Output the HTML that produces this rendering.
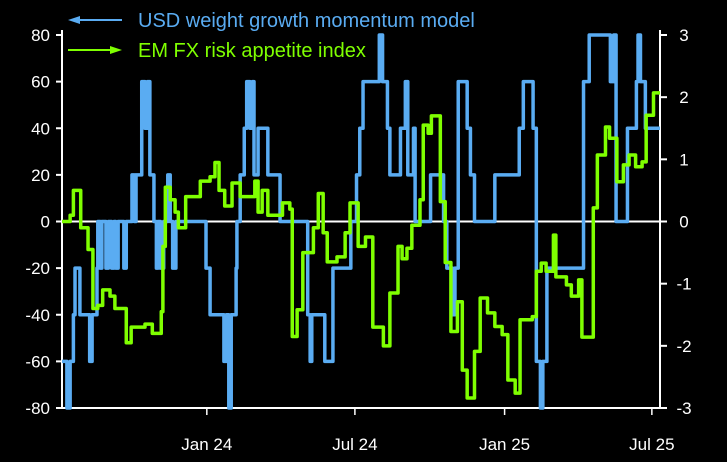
<!DOCTYPE html>
<html><head><meta charset="utf-8"><style>
body{margin:0;background:#000;}
svg{display:block;font-family:"Liberation Sans",sans-serif;}
</style></head><body>
<svg id="chart" width="727" height="462">
<rect width="727" height="462" fill="#000"/>
<g id="axes"></g><g id="series"></g>
<g>
<g>
<line x1="76" y1="20" x2="122" y2="20" stroke="#5aacf2" stroke-width="2"/>
<polygon points="68,20 80,16 80,24" fill="#5aacf2"/>
<text x="138" y="27" fill="#5aacf2" font-size="20">USD weight growth momentum model</text></g>
<g>
<line x1="68" y1="50" x2="114" y2="50" stroke="#7fff00" stroke-width="2"/>
<polygon points="122,50 110,46 110,54" fill="#7fff00"/>
<text x="138" y="57" fill="#7fff00" font-size="20">EM FX risk appetite index</text></g>
</g>
</svg>
<script>
const leftTicks=[80,60,40,20,0,-20,-40,-60,-80];
const rightTicks=[3,2,1,0,-1,-2,-3];
const xTickDays=[178,360,544,725];
const xTickLabels=["Jan 24","Jul 24","Jan 25","Jul 25"];
const usdDays=[0,6,10,14,16,22,34,37,43,44,47,49,54,57,61,64,66,69,76,79,86,89,91,98,102,105,108,113,116,118,121,125,130,133,136,140,177,182,199,202,205,208,214,215,219,224,227,231,234,236,241,253,268,302,305,307,323,333,355,362,366,370,390,394,400,403,416,422,425,432,434,453,469,473,480,483,487,498,502,507,532,562,567,579,583,588,591,596,641,648,674,678,681,695,706,708,711,717,735];
const usdVals=[-60,-80,-60,-40,-20,-40,-60,-40,-20,0,-20,0,-20,0,-20,0,-20,0,-20,0,20,0,20,60,40,60,20,0,-20,0,-20,0,20,0,-20,0,-20,-40,-60,-40,-80,-40,-20,0,20,40,60,40,60,20,40,20,0,-40,-60,-40,-60,-20,0,20,40,60,80,60,40,20,40,60,20,40,0,20,0,-20,-40,-20,60,40,20,0,20,40,60,40,-60,-80,-60,-20,60,80,60,80,0,40,60,80,60,40,40];
const emDays=[0,10,14,23,32,38,44,50,59,65,79,85,102,111,122,124,127,133,139,143,152,170,182,188,193,200,209,219,237,241,246,253,271,280,283,289,296,309,315,321,326,338,348,354,364,373,382,395,403,413,418,424,430,440,444,450,454,465,471,478,486,492,498,507,514,523,532,541,548,557,563,578,583,589,595,604,607,620,626,635,639,653,658,668,673,682,690,697,705,713,718,727,735];
const emVals=[0,0.1,0.5,-0.1,-0.45,-1.4,-1.35,-1.1,-1.2,-1.4,-1.95,-1.7,-1.65,-1.8,-1.45,-0.4,0.55,0.35,0.15,-0.1,0.4,0.65,0.72,0.95,0.5,0.25,0.62,0.4,0.65,0.15,0.5,0.1,0.3,0.2,-1.85,-1.42,-0.5,-0.1,0.45,-0.18,-0.65,-0.57,-0.18,0.3,-0.4,-0.25,-1.7,-2.0,-1.15,-0.4,-0.6,-0.43,-0.06,0.35,1.55,1.42,1.7,0.32,-0.66,-1.77,-1.29,-2.39,-2.84,-2.09,-1.23,-1.47,-1.69,-1.82,-2.55,-2.76,-1.58,-1.53,-0.8,-0.67,-0.8,-0.22,-0.89,-1.02,-1.2,-0.94,-1.86,0.22,1.07,1.52,1.34,0.64,0.91,1.07,0.88,0.96,1.71,2.07,2.07];

const X0=62,X1=660,Y0=35,Y1=408,D1=735;
const xs=d=>X0+d*(X1-X0)/D1;
const yl=v=>Y1-(v+80)*(Y1-Y0)/160;
const yr=v=>Y1-(v+3)*(Y1-Y0)/6;
const NS="http://www.w3.org/2000/svg";
const axes=document.getElementById('axes'),ser=document.getElementById('series');
function mk(tag,attrs,parent){const e=document.createElementNS(NS,tag);for(const k in attrs)e.setAttribute(k,attrs[k]);parent.appendChild(e);return e;}
let e;
e=mk('line',{x1:X0,y1:Y0-5,x2:X0,y2:Y1,stroke:'#fff','stroke-width':2},axes);


e=mk('line',{x1:X1,y1:Y0-5,x2:X1,y2:Y1,stroke:'#fff','stroke-width':2},axes);


e=mk('line',{x1:X0,y1:Y1,x2:X1+6,y2:Y1,stroke:'#fff','stroke-width':2},axes);


leftTicks.forEach(v=>{const y=yl(v);
 mk('line',{x1:X0-6,y1:y,x2:X0,y2:y,stroke:'#fff','stroke-width':2},axes);
 e=mk('text',{x:X0-12,y:y+6,fill:'#fff','font-size':17,'text-anchor':'end'},axes);e.textContent=v;
 
 });
rightTicks.forEach(v=>{const y=yr(v);
 mk('line',{x1:X1,y1:y,x2:X1+7,y2:y,stroke:'#fff','stroke-width':2},axes);
 e=mk('text',{x:X1+24,y:y+6,fill:'#fff','font-size':17,'text-anchor':'middle'},axes);e.textContent=v;
 
 });
xTickDays.forEach((d,i)=>{const x=xs(d);
 mk('line',{x1:x,y1:Y1,x2:x,y2:Y1+7,stroke:'#fff','stroke-width':1.5},axes);
 e=mk('text',{x:x,y:450,fill:'#fff','font-size':17,'text-anchor':'middle'},axes);e.textContent=xTickLabels[i];
 
 });
e=mk('line',{x1:X0,y1:yl(0),x2:X1,y2:yl(0),stroke:'#fff','stroke-width':2},axes);


function step(days,vals,fy){let p='';days.forEach((d,i)=>{const x=xs(d),y=fy(vals[i]);
 if(i===0)p+='M'+x+','+y;else p+='H'+x+'V'+y;});return p;}
e=mk('path',{d:step(usdDays,usdVals,yl),fill:'none',stroke:'#5aacf2','stroke-width':3.5,'stroke-linejoin':'round'},ser);


e=mk('path',{d:step(emDays,emVals,yr),fill:'none',stroke:'#7fff00','stroke-width':3.5,'stroke-linejoin':'round'},ser);


</script>
</body></html>
